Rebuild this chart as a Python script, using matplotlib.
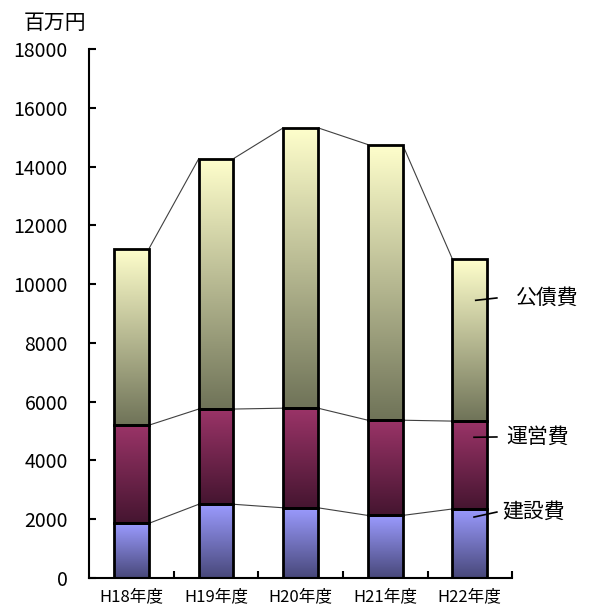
import numpy as np
import matplotlib
matplotlib.use("Agg")
import matplotlib.pyplot as plt
from matplotlib.colors import LinearSegmentedColormap

plt.rcParams['font.family'] = ['Noto Sans CJK JP', 'DejaVu Sans']

# データ (百万円)
years = ['H18年度', 'H19年度', 'H20年度', 'H21年度', 'H22年度']
kensetsu = [1860, 2510, 2390, 2130, 2350]   # 建設費
unei = [3340, 3240, 3390, 3240, 2990]       # 運営費
kousai = [6000, 8520, 9540, 9380, 5510]     # 公債費
series_names = ['建設費', '運営費', '公債費']

# 上が明るく下が暗いグラデーション
grads = [
    ('#9b9bff', '#48487a'),
    ('#9b3468', '#451530'),
    ('#ffffcc', '#6f7358'),
]

fig = plt.figure(figsize=(5.92, 6.08), dpi=100)
ax = fig.add_axes([0.150, 0.0493, 0.715, 0.870])

x = np.arange(len(years))
width = 0.41
bottom = np.zeros(len(years))
tops = []
for vals, (c_top, c_bot) in zip([kensetsu, unei, kousai], grads):
    cmap = LinearSegmentedColormap.from_list('g', [c_bot, c_top])
    bars = ax.bar(x, vals, width, bottom=bottom, facecolor='none',
                  edgecolor='black', linewidth=2, zorder=3)
    for b in bars:
        x0, y0 = b.get_x(), b.get_y()
        grad = np.linspace(0, 1, 256).reshape(-1, 1)
        ax.imshow(grad, extent=(x0, x0 + b.get_width(), y0, y0 + b.get_height()),
                  origin='lower', aspect='auto', cmap=cmap, zorder=2)
    bottom = bottom + np.array(vals)
    tops.append(bottom.copy())

# 区分線
for t in tops:
    for i in range(len(years) - 1):
        ax.plot([x[i] + width / 2, x[i + 1] - width / 2], [t[i], t[i + 1]],
                color='#404040', linewidth=0.8, zorder=1)

ax.set_xlim(-0.505, 4.495)
ax.set_ylim(0, 18000)
ax.set_yticks(np.arange(0, 18001, 2000))
ax.set_xticks(x)
ax.set_xticklabels(years)
ax.set_xticks(np.arange(0.5, 5, 1), minor=True)
ax.tick_params(axis='x', which='major', length=0, pad=7, labelsize=12)
ax.tick_params(axis='x', which='minor', direction='in', length=5, width=1.5)
ax.tick_params(axis='y', direction='in', length=5, width=1.5, pad=15, labelsize=14)
for lbl in ax.get_yticklabels():
    lbl.set_horizontalalignment('right')
for s in ['top', 'right']:
    ax.spines[s].set_visible(False)
for s in ['left', 'bottom']:
    ax.spines[s].set_linewidth(1.5)

fig.text(0.04, 0.962, '百万円', fontsize=15, ha='left', va='center')

# 系列ラベル
label_pos = [(4.05, 2075, 4.32, 2245, 4.38), (4.05, 4790, 4.32, 4800, 4.43),
             (4.07, 9450, 4.32, 9530, 4.55)]
for name, (ax0, ay0, ax1, ay1, tx) in zip(series_names, label_pos):
    ax.plot([ax0, ax1], [ay0, ay1], color='black', linewidth=1.2,
            clip_on=False, zorder=5)
    ax.text(tx, ay1, name, fontsize=15, ha='left', va='center', clip_on=False)

fig.savefig('out.png', dpi=100)
